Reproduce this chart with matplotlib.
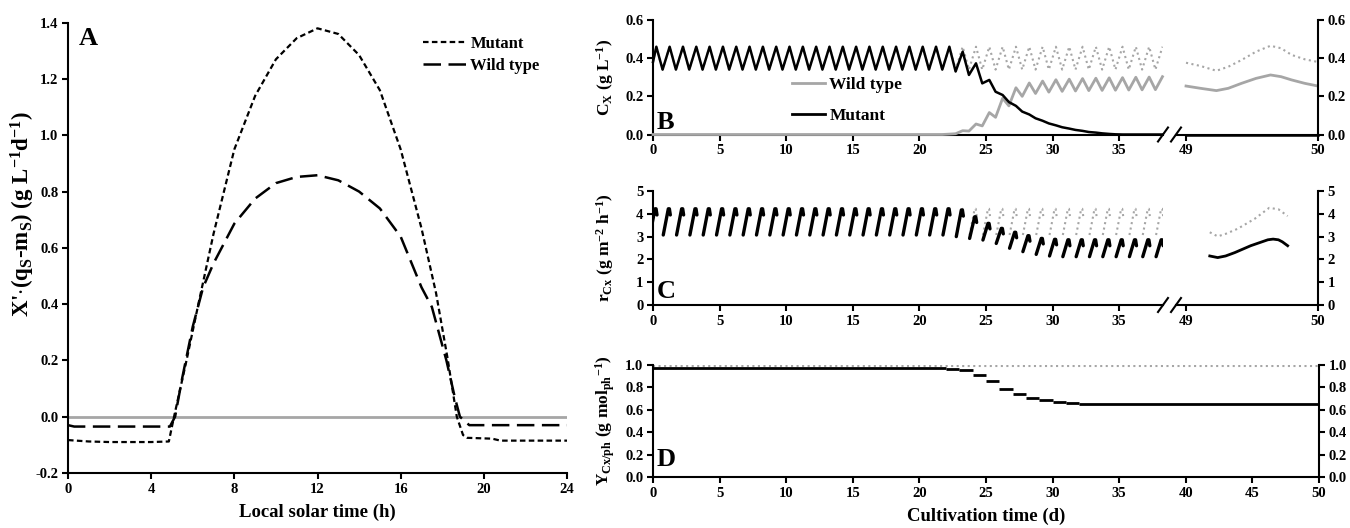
import numpy as np
import matplotlib.pyplot as plt
from matplotlib.lines import Line2D

plt.rcParams['font.family'] = ['Liberation Serif', 'DejaVu Serif']
plt.rcParams['font.weight'] = 'bold'
plt.rcParams['axes.labelweight'] = 'bold'
plt.rcParams['mathtext.fontset'] = 'custom'
plt.rcParams['mathtext.rm'] = 'Liberation Serif:bold'
plt.rcParams['mathtext.it'] = 'Liberation Serif:italic:bold'
plt.rcParams['mathtext.bf'] = 'Liberation Serif:bold'
plt.rcParams['mathtext.default'] = 'rm'

GRAY = '#a6a6a6'

# ---- panel A : daily profile ----
a_hours_mut = [0, 1, 2, 3, 4, 4.85, 5.1, 5.4, 5.7, 6.27, 7, 8, 9, 10, 11, 12, 13, 14, 15,
               16, 17, 17.7, 18.25, 18.7, 19.0, 19.2, 20.4, 20.8, 24]
a_mut = [-0.083, -0.088, -0.09, -0.09, -0.09, -0.088, 0.0, 0.1, 0.2, 0.4, 0.65, 0.95, 1.14,
         1.27, 1.345, 1.38, 1.36, 1.285, 1.16, 0.95, 0.67, 0.44, 0.21, 0.0, -0.065, -0.075,
         -0.078, -0.085, -0.085]
a_hours_wt = [0, 0.3, 4.9, 5.15, 5.5, 6.0, 6.5, 7, 8, 9, 10, 11, 12, 13, 14, 15, 16, 17,
              17.5, 18.2, 18.6, 18.85, 19.3, 24]
a_wt = [-0.03, -0.035, -0.035, 0.0, 0.14, 0.32, 0.46, 0.545, 0.686, 0.775, 0.83, 0.852,
        0.858, 0.84, 0.80, 0.74, 0.64, 0.46, 0.39, 0.2, 0.07, 0.0, -0.03, -0.03]

# ---- panel B : biomass, daily peaks (d+0.25) and troughs (d+0.72), days 0..38 ----
b_mut_peak = [0.46] * 23 + [0.434, 0.373, 0.286, 0.207, 0.15, 0.105, 0.072, 0.048, 0.031,
                            0.019, 0.01, 0.003, 0.0, 0.0, 0.0, 0.0]
b_mut_trough = [0.34] * 22 + [0.33, 0.312, 0.268, 0.224, 0.17, 0.12, 0.085, 0.058, 0.038,
                              0.024, 0.013, 0.006, 0.001, 0.0, 0.0, 0.0]
b_wt_peak = [0.0] * 22 + [0.002, 0.02, 0.055, 0.115, 0.19, 0.245, 0.27, 0.28, 0.287, 0.29,
                          0.293, 0.295, 0.297, 0.298, 0.30, 0.301, 0.303]
b_wt_trough = [0.0] * 22 + [0.004, 0.018, 0.045, 0.09, 0.15, 0.20, 0.215, 0.222, 0.226,
                            0.228, 0.23, 0.231, 0.232, 0.233, 0.234, 0.235]
b_ref_peak = [0.46] * 39
b_ref_trough = [0.34] * 38

# day 49-50 detail
b_zoom_t = [49.0, 49.11, 49.23, 49.32, 49.42, 49.53, 49.64, 49.72, 49.8, 49.9, 50.0]
b_zoom_ref = [0.376, 0.359, 0.334, 0.355, 0.39, 0.434, 0.465, 0.452, 0.417, 0.394, 0.38]
b_zoom_wt = [0.254, 0.242, 0.23, 0.242, 0.268, 0.294, 0.312, 0.303, 0.286, 0.268, 0.254]
b_zoom_mut = [0.0] * 11

# ---- panel C : productivity during daylight, days 0..38 ----
c_mut_lo = [3.07] * 23 + [3.0, 2.92, 2.85, 2.7, 2.49, 2.34, 2.22, 2.15] + [2.12] * 8
c_mut_hi = [4.22] * 23 + [4.17, 3.87, 3.58, 3.36, 3.19, 3.04, 2.92, 2.88] + [2.86] * 8
c_mut_end = [3.95] * 23 + [3.9, 3.62, 3.34, 3.12, 2.95, 2.8, 2.68, 2.64] + [2.6] * 8
c_ref_lo = [3.07] * 39
c_ref_hi = [4.22] * 39
c_ref_end = [3.9] * 39

c_zoom_t_mut = [49.18, 49.24, 49.3, 49.37, 49.43, 49.49, 49.56, 49.62, 49.66, 49.7, 49.73, 49.77]
c_zoom_mut = [2.15, 2.08, 2.15, 2.3, 2.45, 2.6, 2.74, 2.86, 2.89, 2.86, 2.77, 2.6]
c_zoom_t_ref = [49.18, 49.24, 49.3, 49.39, 49.52, 49.63, 49.7, 49.77]
c_zoom_ref = [3.19, 3.01, 3.12, 3.34, 3.78, 4.26, 4.2, 3.9]

# ---- panel D : yield, step per day ----
d_mut_from = [0, 22, 23, 24, 25, 26, 27, 28, 29, 30, 31, 32]
d_mut_to = [22, 23, 24, 25, 26, 27, 28, 29, 30, 31, 32, 50]
d_mut = [0.975, 0.965, 0.955, 0.91, 0.855, 0.79, 0.738, 0.703, 0.685, 0.674, 0.659, 0.65]
d_ref_t = [0, 50]
d_ref = [0.99, 0.99]


def zigzag(start, peaks, troughs):
    x, y = [0.0], [start]
    for d in range(len(peaks)):
        x.append(d + 0.25)
        y.append(peaks[d])
        if d < len(troughs):
            x.append(d + 0.72)
            y.append(troughs[d])
    return x, y


def glyphs(lo, hi, end):
    x, y = [], []
    for d in range(len(lo)):
        t0 = d - 0.29
        x += [t0 + 0.06, t0 + 0.44, t0 + 0.52, t0 + 0.59, np.nan]
        y += [lo[d], hi[d], hi[d], end[d], np.nan]
    return x, y


def frac(x0, y0, x1, y1):
    return [x0 / 1350, 1 - y1 / 528, (x1 - x0) / 1350, (y1 - y0) / 528]


def base_style(ax):
    for s in ax.spines.values():
        s.set_linewidth(1.5)
    ax.spines['top'].set_visible(False)
    ax.tick_params(direction='out', length=4, width=1.5, labelsize=10.5, pad=3)


fig = plt.figure(figsize=(13.5, 5.28), dpi=100)

# ---------------- A ----------------
axA = fig.add_axes(frac(68, 22.7, 567, 473))
base_style(axA)
axA.spines['right'].set_visible(False)
axA.plot([0, 24], [0, 0], color=GRAY, lw=2, zorder=1)
l_mut, = axA.plot(a_hours_mut, a_mut, color='black', lw=1.6, dashes=(2.5, 1.5))
l_wt, = axA.plot(a_hours_wt, a_wt, color='black', lw=1.8, dashes=(7, 3))
axA.set_xlim(0, 24)
axA.set_ylim(-0.2, 1.4)
axA.set_xticks(range(0, 25, 4))
yt = np.round(np.arange(-0.2, 1.41, 0.2), 1)
axA.set_yticks(yt)
axA.set_yticklabels([f"{v:.1f}" for v in yt])
axA.set_xlabel('Local solar time (h)', fontsize=13.5, labelpad=6)
axA.set_ylabel(r"X'$\cdot$(q$_{S}$-m$_{S}$) (g L$^{-1}$d$^{-1}$)", fontsize=16.5)
axA.yaxis.set_label_coords(-0.062, 0.575)
axA.text(0.022, 0.99, 'A', transform=axA.transAxes, fontsize=19, ha='left', va='top')
axA.legend([l_mut, l_wt], ['Mutant', 'Wild type'], loc='upper left',
           bbox_to_anchor=(423 / 1350, 1 - 36 / 528), bbox_transform=fig.transFigure,
           frameon=False, fontsize=12, handlelength=2.6, handletextpad=0.25,
           labelspacing=0.38, borderpad=0, borderaxespad=0)

# ---------------- B & C (broken axes) ----------------
rows = [
    dict(y0=20, y1=134.5, ylim=(0, 0.6), yt=[0, 0.2, 0.4, 0.6], fmt='{:.1f}',
         label=r'C$_{X}$ (g L$^{-1}$)', letter='B'),
    dict(y0=191, y1=305, ylim=(0, 5), yt=[0, 1, 2, 3, 4, 5], fmt='{:.0f}',
         label=r'r$_{Cx}$ (g m$^{-2}$ h$^{-1}$)', letter='C'),
]
left_axes, right_axes = [], []
for r in rows:
    axl = fig.add_axes(frac(653, r['y0'], 1163, r['y1']))
    axr = fig.add_axes(frac(1176, r['y0'], 1318, r['y1']))
    base_style(axl)
    base_style(axr)
    axl.spines['right'].set_visible(False)
    axr.spines['left'].set_visible(False)
    axl.set_xlim(0, 38.29)
    axr.set_xlim(48.924, 50)
    for ax in (axl, axr):
        ax.set_ylim(*r['ylim'])
        ax.set_yticks(r['yt'])
        ax.set_yticklabels([r['fmt'].format(v) for v in r['yt']])
    axr.yaxis.tick_right()
    axl.set_xticks(range(0, 36, 5))
    axr.set_xticks([49, 50])
    axl.set_ylabel(r['label'], fontsize=12.5)
    axl.yaxis.set_label_coords(-0.072, 0.5)
    ybase = 129 if r['letter'] == 'B' else 298
    axl.text(0.008, (r['y1'] - ybase) / (r['y1'] - r['y0']), r['letter'],
             transform=axl.transAxes, fontsize=19, ha='left', va='baseline')
    # break marks
    for xb in (1163, 1176):
        fig.add_artist(Line2D([(xb - 5) / 1350, (xb + 5) / 1350],
                              [1 - (r['y1'] + 7) / 528, 1 - (r['y1'] - 7) / 528],
                              color='black', lw=1.5))
    left_axes.append(axl)
    right_axes.append(axr)

# B data
axBl, axBr = left_axes[0], right_axes[0]
x, y = zigzag(0.38, b_ref_peak, b_ref_trough)
axBl.plot(x, y, color=GRAY, lw=1.5, ls=':', zorder=2)
x, y = zigzag(0.0, b_wt_peak, b_wt_trough)
axBl.plot(x, y, color=GRAY, lw=2, zorder=3, clip_on=False)
x, y = zigzag(0.38, b_mut_peak, b_mut_trough)
axBl.plot(x, y, color='black', lw=1.8, zorder=4, clip_on=False)
axBr.plot(b_zoom_t, b_zoom_ref, color=GRAY, lw=1.5, ls=':')
axBr.plot(b_zoom_t, b_zoom_wt, color=GRAY, lw=2)
axBr.plot(b_zoom_t, b_zoom_mut, color='black', lw=1.8, clip_on=False)
axBl.legend([Line2D([], [], color=GRAY, lw=2), Line2D([], [], color='black', lw=2)],
            ['Wild type', 'Mutant'], loc='upper left',
            bbox_to_anchor=(792 / 1350, 1 - 77 / 528), bbox_transform=fig.transFigure,
            frameon=False, fontsize=12.5, handlelength=1.9, handletextpad=0.25,
            labelspacing=0.85, borderpad=0, borderaxespad=0)

# C data
axCl, axCr = left_axes[1], right_axes[1]
x, y = glyphs(c_ref_lo, c_ref_hi, c_ref_end)
axCl.plot(x, y, color=GRAY, lw=1.5, ls=':')
x, y = glyphs(c_mut_lo, c_mut_hi, c_mut_end)
axCl.plot(x, y, color='black', lw=2.4, solid_capstyle='round')
axCr.plot(c_zoom_t_ref, c_zoom_ref, color=GRAY, lw=1.5, ls=':')
axCr.plot(c_zoom_t_mut, c_zoom_mut, color='black', lw=2)

# ---------------- D ----------------
axD = fig.add_axes(frac(653, 365, 1319, 477))
base_style(axD)
axD.plot(d_ref_t, d_ref, color=GRAY, lw=1.5, ls=':')
axD.hlines(d_mut, d_mut_from, d_mut_to, color='black', lw=2)
axD.set_xlim(0, 50)
axD.set_ylim(0, 1.0)
axD.set_xticks(range(0, 51, 5))
ytd = [0, 0.2, 0.4, 0.6, 0.8, 1.0]
axD.set_yticks(ytd)
axD.set_yticklabels([f"{v:.1f}" for v in ytd])
axD.tick_params(axis='y', right=True, labelright=True)
axD.set_xlabel('Cultivation time (d)', fontsize=13.5, labelpad=6)
axD.set_ylabel(r'Y$_{Cx/ph}$ (g mol$_{ph}$$^{-1}$)', fontsize=12.5)
axD.yaxis.set_label_coords(-0.054, 0.5)
axD.text(0.006, (477 - 466) / 112, 'D', transform=axD.transAxes, fontsize=19,
         ha='left', va='baseline')

fig.savefig('out.png', dpi=100)
